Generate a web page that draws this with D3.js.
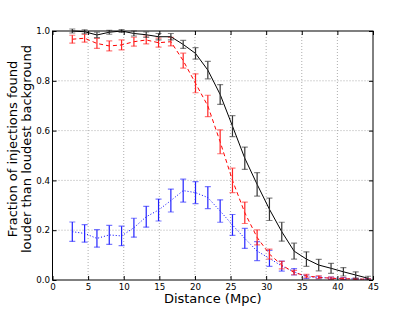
<!DOCTYPE html>
<html>
<head>
<meta charset="utf-8">
<script src="https://cdn.jsdelivr.net/npm/d3@7"></script>
<style>
body { margin: 0; background: #fff; }
svg text { font-family: "DejaVu Sans", sans-serif; }
</style>
</head>
<body>
<svg id="chart" width="415" height="312"></svg>
<script>
var distances = [2.78, 4.51, 6.24, 7.97, 9.7, 11.43, 13.16, 14.89, 16.62, 18.35, 20.08, 21.81, 23.54,
	25.27, 27.0, 28.73, 30.46, 32.19, 33.92, 35.65, 37.38, 39.11, 40.84, 42.57, 44.3];

var blackVals = [1.0, 0.997, 0.984, 0.995, 1.0, 0.99, 0.985, 0.977, 0.977, 0.946, 0.91, 0.843, 0.745,
	0.618, 0.489, 0.384, 0.284, 0.194, 0.116, 0.084, 0.06, 0.047, 0.033, 0.02, 0.007];
var blackErr = [0.008, 0.008, 0.011, 0.008, 0.006, 0.01, 0.011, 0.013, 0.013, 0.016, 0.023, 0.035, 0.04,
	0.042, 0.045, 0.047, 0.045, 0.038, 0.032, 0.029, 0.023, 0.02, 0.017, 0.013, 0.008];

var redVals = [0.967, 0.971, 0.95, 0.94, 0.944, 0.957, 0.964, 0.953, 0.957, 0.881, 0.79, 0.699, 0.555,
	0.40, 0.27, 0.171, 0.104, 0.06, 0.03, 0.016, 0.011, 0.007, 0.005, 0.004, 0.003];
var redErr = [0.016, 0.016, 0.02, 0.02, 0.02, 0.018, 0.016, 0.018, 0.017, 0.03, 0.038, 0.043, 0.048,
	0.049, 0.043, 0.03, 0.02, 0.015, 0.009, 0.007, 0.006, 0.005, 0.004, 0.003, 0.003];

var blueVals = [0.194, 0.187, 0.167, 0.181, 0.177, 0.21, 0.254, 0.281, 0.319, 0.359, 0.351, 0.331, 0.277,
	0.221, 0.167, 0.116, 0.087, 0.056, 0.033, 0.013, 0.01, 0.008, 0.006, 0.004, 0.003];
var blueErr = [0.039, 0.035, 0.035, 0.038, 0.039, 0.038, 0.042, 0.044, 0.046, 0.046, 0.044, 0.044, 0.045,
	0.042, 0.04, 0.038, 0.032, 0.02, 0.013, 0.007, 0.005, 0.004, 0.004, 0.003, 0.003];

var xTicks = [0, 5, 10, 15, 20, 25, 30, 35, 40, 45];
var yTicks = [0.0, 0.2, 0.4, 0.6, 0.8, 1.0];

var svg = d3.select("#chart");
var pLeft = 52.5, pRight = 373, pTop = 31, pBottom = 280;

var x = d3.scaleLinear().domain([0, 45]).range([pLeft, pRight]);
var y = d3.scaleLinear().domain([0, 1]).range([pBottom, pTop]);

// grid
var grid = svg.append("g");
grid.selectAll("line.gx").data(xTicks.slice(1, -1)).enter().append("line")
	.attr("x1", function(d){ return x(d); }).attr("x2", function(d){ return x(d); })
	.attr("y1", pTop).attr("y2", pBottom)
	.attr("stroke", "#999").attr("stroke-width", 0.8).attr("stroke-dasharray", "1,2");
grid.selectAll("line.gy").data(yTicks.slice(1, -1)).enter().append("line")
	.attr("y1", function(d){ return y(d); }).attr("y2", function(d){ return y(d); })
	.attr("x1", pLeft).attr("x2", pRight)
	.attr("stroke", "#999").attr("stroke-width", 0.8).attr("stroke-dasharray", "1,2");

var series = [
	{vals: blueVals, err: blueErr, color: "#0000ff", bar: "#2222ff", dash: "1,2"},
	{vals: redVals, err: redErr, color: "#ff0000", bar: "#ff2222", dash: "4,3"},
	{vals: blackVals, err: blackErr, color: "#000000", bar: "#333333", dash: null}
];

svg.append("clipPath").attr("id", "plotclip").append("rect")
	.attr("x", pLeft).attr("y", pTop - 4).attr("width", pRight - pLeft).attr("height", pBottom - pTop + 4);

series.forEach(function(s){
	var pts = distances.map(function(d, i){ return [d, s.vals[i], s.err[i]]; });
	var g = svg.append("g").attr("clip-path", "url(#plotclip)");
	var line = d3.line().x(function(d){ return x(d[0]); }).y(function(d){ return y(d[1]); });
	g.append("path").datum(pts).attr("d", line)
		.attr("fill", "none").attr("stroke", s.color).attr("stroke-width", 1)
		.attr("stroke-dasharray", s.dash);
	var eb = g.selectAll("g.eb").data(pts).enter().append("g");
	eb.append("line")
		.attr("x1", function(d){ return x(d[0]); }).attr("x2", function(d){ return x(d[0]); })
		.attr("y1", function(d){ return y(d[1] - d[2]); }).attr("y2", function(d){ return y(d[1] + d[2]); })
		.attr("stroke", s.bar).attr("stroke-width", 1.2);
	[-1, 1].forEach(function(sg){
		eb.append("line")
			.attr("x1", function(d){ return x(d[0]) - 3; }).attr("x2", function(d){ return x(d[0]) + 3; })
			.attr("y1", function(d){ return y(d[1] + sg * d[2]); }).attr("y2", function(d){ return y(d[1] + sg * d[2]); })
			.attr("stroke", s.bar).attr("stroke-opacity", 0.6).attr("stroke-width", 1.2);
	});
});

// frame
svg.append("rect").attr("x", pLeft).attr("y", pTop).attr("width", pRight - pLeft).attr("height", pBottom - pTop)
	.attr("fill", "none").attr("stroke", "#000").attr("stroke-width", 1);

// axes with inward ticks
var xAxis = d3.axisBottom(x).tickValues(xTicks).tickSize(-4).tickPadding(4).tickFormat(d3.format("d"));
var gx = svg.append("g").attr("transform", "translate(0," + pBottom + ")").call(xAxis);
var gxTop = svg.append("g").attr("transform", "translate(0," + pTop + ")")
	.call(d3.axisTop(x).tickValues(xTicks).tickSize(-4).tickFormat(""));
var yAxis = d3.axisLeft(y).tickValues(yTicks).tickSize(-4).tickPadding(2.5).tickFormat(d3.format(".1f"));
var gy = svg.append("g").attr("transform", "translate(" + pLeft + ",0)").call(yAxis);
var gyR = svg.append("g").attr("transform", "translate(" + pRight + ",0)")
	.call(d3.axisRight(y).tickValues(yTicks).tickSize(-4).tickFormat(""));
[gx, gxTop, gy, gyR].forEach(function(g){
	g.select(".domain").remove();
	g.selectAll("text").attr("font-size", 8.7).attr("fill", "#000").attr("font-family", "DejaVu Sans");
	g.selectAll("line").attr("stroke", "#000");
});

svg.append("text").attr("x", (pLeft + pRight) / 2).attr("y", 303).attr("text-anchor", "middle")
	.attr("font-size", 13).text("Distance (Mpc)");
svg.append("text").attr("transform", "translate(17,149) rotate(-90)")
	.attr("text-anchor", "middle").attr("font-size", 13).text("Fraction of injections found");
svg.append("text").attr("transform", "translate(30.5,149) rotate(-90)")
	.attr("text-anchor", "middle").attr("font-size", 13).text("louder than loudest background");
</script>
</body>
</html>
